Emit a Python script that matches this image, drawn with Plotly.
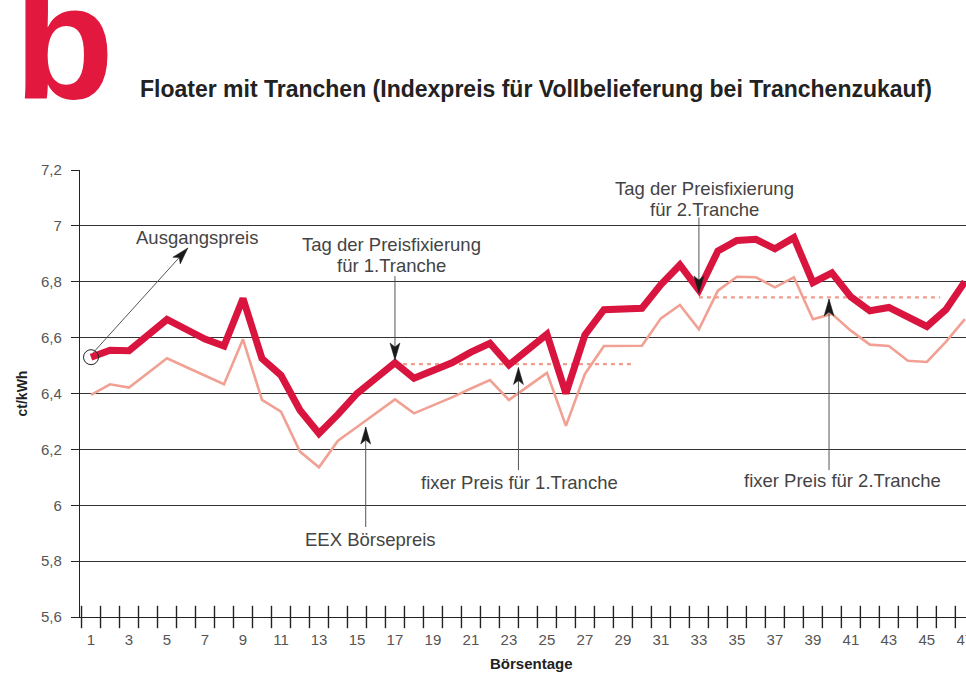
import math
import plotly.graph_objects as go

# ---------------- data ----------------
days = list(range(1, 48))

index_price = [6.53, 6.555, 6.553, 6.61, 6.665, 6.63, 6.595, 6.57, 6.74, 6.525,
               6.465, 6.34, 6.257, 6.325, 6.40, 6.455, 6.51, 6.455, 6.48, 6.51,
               6.548, 6.58, 6.502, 6.555, 6.612, 6.40, 6.61, 6.70, 6.703, 6.705,
               6.79, 6.86, 6.77, 6.91, 6.948, 6.952, 6.918, 6.958, 6.797, 6.832,
               6.746, 6.696, 6.708, 6.675, 6.64, 6.70, 6.80]

eex_price = [6.395, 6.433, 6.421, 6.473, 6.526, 6.495, 6.465, 6.433, 6.594, 6.377,
             6.335, 6.192, 6.136, 6.231, 6.28, 6.33, 6.379, 6.329, 6.357, 6.386,
             6.418, 6.448, 6.377, 6.425, 6.474, 6.284, 6.47, 6.57, 6.57, 6.571,
             6.669, 6.717, 6.63, 6.768, 6.818, 6.816, 6.78, 6.816, 6.666, 6.685,
             6.625, 6.575, 6.57, 6.517, 6.513, 6.585, 6.666]

fix1_days = [17, 29.6]
fix1_price = [6.505, 6.505]
fix2_days = [33, 45.7]
fix2_price = [6.744, 6.744]

y_ticks = [5.6, 5.8, 6.0, 6.2, 6.4, 6.6, 6.8, 7.0, 7.2]
y_labels = ["5,6", "5,8", "6", "6,2", "6,4", "6,6", "6,8", "7", "7,2"]
x_tick_days = list(range(1, 48, 2))
x_labels = [str(d) for d in x_tick_days]

# ---------------- styles / layout ----------------
W, H = 966, 676
M_L, M_R, M_T, M_B = 80, 0, 170, 59
X_RANGE = [0.42, 47.06]
Y_RANGE = [5.6, 7.2]

RED = "#D8143F"
PINK = "#F1A193"
DOT = "#F29C8E"
TXT = "#444444"
FONT = "Liberation Sans, Arial, sans-serif"

PX_PER_X = (W - M_L - M_R) / (X_RANGE[1] - X_RANGE[0])
PX_PER_Y = (H - M_T - M_B) / (Y_RANGE[1] - Y_RANGE[0])

fig = go.Figure()

fig.add_trace(go.Scatter(x=days, y=eex_price, mode="lines",
                         line=dict(color=PINK, width=2.6), hoverinfo="skip"))
fig.add_trace(go.Scatter(x=fix1_days, y=fix1_price, mode="lines",
                         line=dict(color=DOT, width=2.4, dash="4px,4px"), hoverinfo="skip"))
fig.add_trace(go.Scatter(x=fix2_days, y=fix2_price, mode="lines",
                         line=dict(color=DOT, width=2.4, dash="4px,4px"), hoverinfo="skip"))
fig.add_trace(go.Scatter(x=days, y=index_price, mode="lines",
                         line=dict(color=RED, width=7), hoverinfo="skip"))
fig.add_trace(go.Scatter(x=[days[0]], y=[index_price[0]], mode="markers",
                         marker=dict(symbol="circle-open", size=15, color="#222",
                                     line=dict(width=1, color="#222")),
                         cliponaxis=False, hoverinfo="skip"))
# crossing tick marks on the x axis (between the days)
fig.add_trace(go.Scatter(x=[d - 0.5 for d in days], y=[Y_RANGE[0]] * len(days), mode="markers",
                         marker=dict(symbol="line-ns", size=16,
                                     line=dict(width=1.4, color="#222")),
                         cliponaxis=False, hoverinfo="skip"))

fig.update_layout(
    width=W, height=H,
    margin=dict(l=M_L, r=M_R, t=M_T, b=M_B, autoexpand=False),
    paper_bgcolor="white", plot_bgcolor="white",
    showlegend=False,
    font=dict(family=FONT, color=TXT),
)

fig.update_xaxes(
    range=X_RANGE, automargin=False,
    tickmode="array", tickvals=x_tick_days, ticktext=x_labels,
    ticks="", showgrid=False, zeroline=False,
    showline=True, linecolor="#222", linewidth=1.2,
    tickfont=dict(family=FONT, size=15, color="#555"),
    ticklabelstandoff=9, ticklabeloverflow="allow",
)
fig.update_yaxes(
    range=Y_RANGE, automargin=False,
    tickmode="array", tickvals=y_ticks, ticktext=y_labels,
    ticks="outside", ticklen=8, tickcolor="#222", tickwidth=1,
    showgrid=True, gridcolor="#333", gridwidth=1,
    zeroline=False, showline=True, linecolor="#222", linewidth=1.2,
    tickfont=dict(family=FONT, size=15, color="#555"),
    ticklabelstandoff=6,
)

ann = []
shapes = []

ann.append(dict(text="<b>b</b>", xref="paper", yref="paper", x=-0.077, y=1.0767,
                xanchor="left", yanchor="bottom", showarrow=False,
                font=dict(family=FONT, size=164, color="#E2183F")))
ann.append(dict(text="<b>Floater mit Tranchen (Indexpreis für Vollbelieferung bei Tranchenzukauf)</b>",
                xref="paper", yref="paper", x=0.0655, y=1.181, xanchor="left", yanchor="middle",
                showarrow=False, font=dict(family=FONT, size=23, color="#222")))
ann.append(dict(text="<b>Börsentage</b>", xref="paper", yref="paper", x=0.51, y=-0.103,
                xanchor="center", yanchor="middle", showarrow=False,
                font=dict(family=FONT, size=15, color="#222")))
ann.append(dict(text="<b>ct/kWh</b>", xref="paper", yref="paper", x=-0.0655, y=0.5,
                xanchor="center", yanchor="middle", textangle=-90, showarrow=False,
                font=dict(family=FONT, size=14, color="#222")))


def label(text, x, y):
    ann.append(dict(text=text, x=x, y=y, xref="x", yref="y", xanchor="center",
                    yanchor="middle", showarrow=False, borderpad=0,
                    font=dict(family=FONT, size=18.5, color=TXT)))


def arrow(x_tail, y_tail, x_tip, y_tip, length=17, half=5, notch=13):
    shapes.append(dict(type="line", xref="x", yref="y", x0=x_tail, y0=y_tail,
                       x1=x_tip, y1=y_tip, line=dict(color="#555", width=1), layer="above"))
    dx = (x_tip - x_tail) * PX_PER_X
    dy = (y_tip - y_tail) * PX_PER_Y
    n = math.hypot(dx, dy)
    ux, uy = dx / n, dy / n
    px, py = -uy, ux
    bx, by = -ux * length, -uy * length
    nx, ny = -ux * notch, -uy * notch
    path = (f"M0,0 L{bx + px * half:.2f},{by + py * half:.2f} "
            f"L{nx:.2f},{ny:.2f} L{bx - px * half:.2f},{by - py * half:.2f} Z")
    shapes.append(dict(type="path", xref="x", yref="y", xsizemode="pixel", ysizemode="pixel",
                       xanchor=x_tip, yanchor=y_tip, path=path,
                       fillcolor="#1a1a1a", line=dict(color="#1a1a1a", width=0.5),
                       layer="above"))


label("Ausgangspreis", 6.57, 6.957)
arrow(1.10, 6.545, 6.10, 6.921)

label("Tag der Preisfixierung", 16.81, 6.9337)
label("für 1.Tranche", 16.81, 6.8585)
arrow(17, 6.82, 17, 6.52)

label("Tag der Preisfixierung", 33.28, 7.1325)
label("für 2.Tranche", 33.28, 7.0574)
arrow(33, 7.03, 33, 6.76)

label("fixer Preis für 1.Tranche", 23.55, 6.083)
arrow(23.5, 6.126, 23.5, 6.493)

label("fixer Preis für 2.Tranche", 40.56, 6.087)
arrow(39.85, 6.126, 39.85, 6.738)

label("EEX Börsepreis", 15.72, 5.879)
arrow(15.46, 5.922, 15.46, 6.28)

fig.update_layout(annotations=ann, shapes=shapes)

fig.write_html("out.html", config={"displayModeBar": False},
               post_script="document.body.style.margin='0';")
